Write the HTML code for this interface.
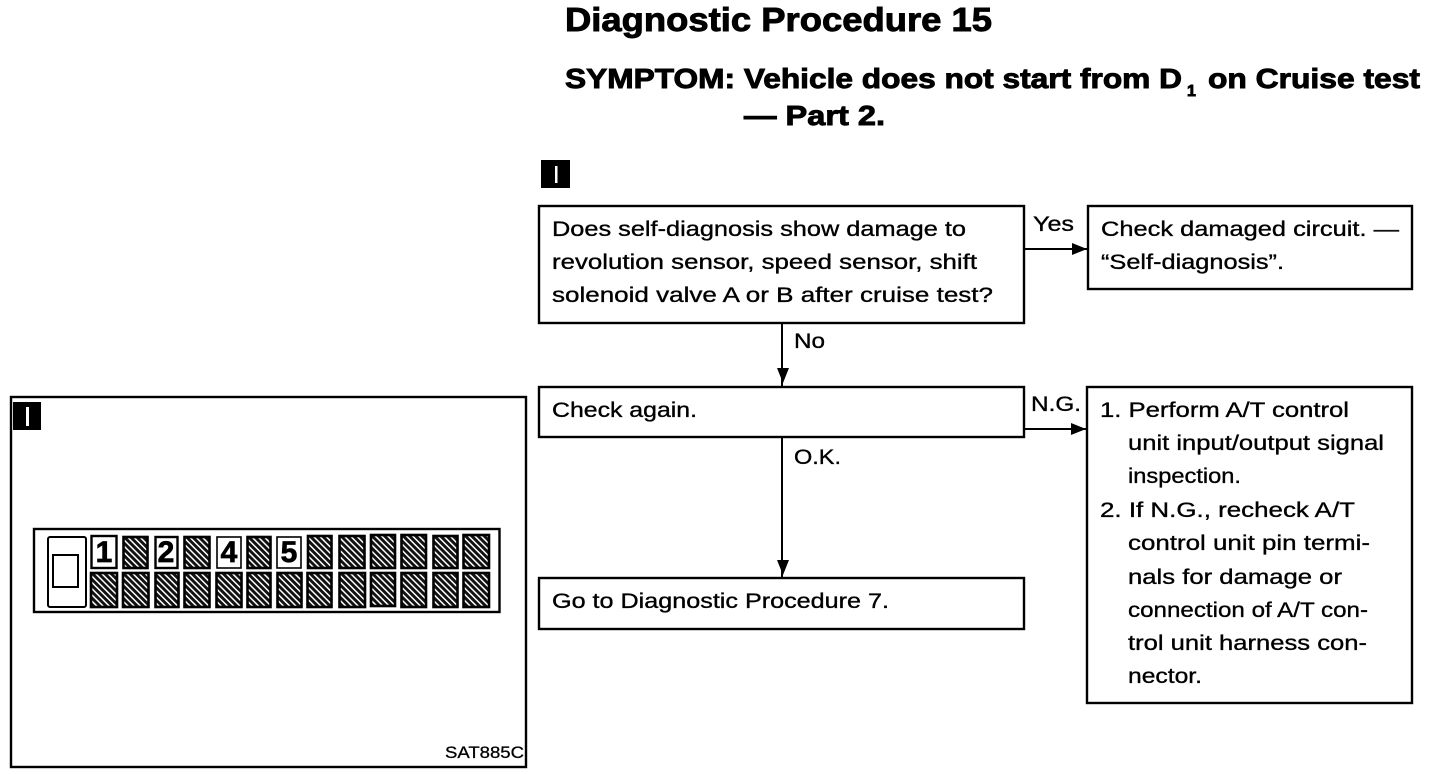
<!DOCTYPE html>
<html>
<head>
<meta charset="utf-8">
<style>
html,body{margin:0;padding:0;background:#fff;width:1440px;height:774px;overflow:hidden}
svg{display:block}
text{font-family:"Liberation Sans",sans-serif;fill:#000}
.t{font-size:21.5px;stroke:#000;stroke-width:.35px}
.h{font-weight:bold;stroke:#000;stroke-width:.9px}
.b{fill:#fff;stroke:#000;stroke-width:2.4px}
.l{stroke:#000;stroke-width:2px;fill:none}
.n{font-size:30px;font-weight:bold;text-anchor:middle;stroke:#000;stroke-width:.7px}
.c{fill:url(#hatch);stroke:#000;stroke-width:2.6px}
.w{fill:#fff;stroke:#000;stroke-width:2.4px}
</style>
</head>
<body>
<svg width="1440" height="774" viewBox="0 0 1440 774" xmlns="http://www.w3.org/2000/svg">
<defs>
<pattern id="hatch" width="4.4" height="4.4" patternUnits="userSpaceOnUse" patternTransform="rotate(-45)">
<rect width="4.4" height="4.4" fill="#111"/>
<rect width="1.5" height="4.4" fill="#fff"/>
</pattern>
</defs>

<!-- Title -->
<text class="h" x="565" y="31" font-size="33.5" textLength="427" lengthAdjust="spacingAndGlyphs">Diagnostic Procedure 15</text>
<text class="h" x="565" y="88" font-size="27.5" textLength="617" lengthAdjust="spacingAndGlyphs">SYMPTOM: Vehicle does not start from D</text>
<text class="h" x="1187" y="96" font-size="16">1</text>
<text class="h" x="1208" y="88" font-size="27.5" textLength="212" lengthAdjust="spacingAndGlyphs">on Cruise test</text>
<text class="h" x="744" y="125" font-size="27.5" textLength="141" lengthAdjust="spacingAndGlyphs">— Part 2.</text>

<!-- Step marker -->
<rect x="541" y="160" width="29" height="28" fill="#000"/>
<rect x="555" y="166" width="2.5" height="17" fill="#fff"/>

<!-- Flow boxes -->
<rect class="b" x="539" y="206" width="485" height="117"/>
<rect class="b" x="1088" y="206" width="324" height="83"/>
<rect class="b" x="539" y="387" width="485" height="50"/>
<rect class="b" x="1087" y="387" width="325" height="316"/>
<rect class="b" x="539" y="578" width="485" height="51"/>

<!-- Connectors -->
<line class="l" x1="1024" y1="249" x2="1088" y2="249"/>
<polygon points="1087,249 1072,243 1072,255"/>
<line class="l" x1="1024" y1="429" x2="1087" y2="429"/>
<polygon points="1086,429 1071,423 1071,435"/>
<line class="l" x1="782" y1="323" x2="782" y2="387"/>
<polygon points="783,383 777,368 789,368"/>
<line class="l" x1="782" y1="437" x2="782" y2="578"/>
<polygon points="783,575 777,560 789,560"/>

<!-- Flow text -->
<text class="t" x="552" y="236" textLength="414" lengthAdjust="spacingAndGlyphs">Does self-diagnosis show damage to</text>
<text class="t" x="552" y="269" textLength="425" lengthAdjust="spacingAndGlyphs">revolution sensor, speed sensor, shift</text>
<text class="t" x="552" y="302" textLength="441" lengthAdjust="spacingAndGlyphs">solenoid valve A or B after cruise test?</text>
<text class="t" x="1101" y="236" textLength="298" lengthAdjust="spacingAndGlyphs">Check damaged circuit. —</text>
<text class="t" x="1101" y="269" textLength="183" lengthAdjust="spacingAndGlyphs">“Self-diagnosis”.</text>
<text class="t" x="1033" y="231" textLength="41" lengthAdjust="spacingAndGlyphs">Yes</text>
<text class="t" x="794" y="348" textLength="31" lengthAdjust="spacingAndGlyphs">No</text>
<text class="t" x="552" y="417" textLength="145" lengthAdjust="spacingAndGlyphs">Check again.</text>
<text class="t" x="1031" y="411" textLength="50" lengthAdjust="spacingAndGlyphs">N.G.</text>
<text class="t" x="794" y="464" textLength="47" lengthAdjust="spacingAndGlyphs">O.K.</text>
<text class="t" x="552" y="608" textLength="337" lengthAdjust="spacingAndGlyphs">Go to Diagnostic Procedure 7.</text>

<text class="t" x="1100" y="417" textLength="249" lengthAdjust="spacingAndGlyphs">1. Perform A/T control</text>
<text class="t" x="1128" y="450" textLength="256" lengthAdjust="spacingAndGlyphs">unit input/output signal</text>
<text class="t" x="1128" y="483" textLength="113" lengthAdjust="spacingAndGlyphs">inspection.</text>
<text class="t" x="1100" y="517" textLength="255" lengthAdjust="spacingAndGlyphs">2. If N.G., recheck A/T</text>
<text class="t" x="1128" y="550" textLength="242" lengthAdjust="spacingAndGlyphs">control unit pin termi-</text>
<text class="t" x="1128" y="584" textLength="214" lengthAdjust="spacingAndGlyphs">nals for damage or</text>
<text class="t" x="1128" y="617" textLength="240" lengthAdjust="spacingAndGlyphs">connection of A/T con-</text>
<text class="t" x="1128" y="650" textLength="239" lengthAdjust="spacingAndGlyphs">trol unit harness con-</text>
<text class="t" x="1128" y="683" textLength="74" lengthAdjust="spacingAndGlyphs">nector.</text>

<!-- Left panel -->
<rect class="b" x="11" y="397" width="515" height="370"/>
<rect x="13" y="402" width="28" height="28" fill="#000"/>
<rect x="26" y="407" width="3" height="19" fill="#fff"/>
<text x="445" y="758" font-size="17" stroke="#000" stroke-width=".3" textLength="79" lengthAdjust="spacingAndGlyphs">SAT885C</text>

<!-- Connector illustration -->
<rect x="34" y="529" width="465.5" height="83" fill="#fff" stroke="#000" stroke-width="2.4"/>
<rect x="48" y="537" width="38" height="70" rx="2" fill="#fff" stroke="#000" stroke-width="2"/>
<rect x="53" y="555" width="25" height="32" fill="#fff" stroke="#000" stroke-width="2"/>

<!-- top row -->
<rect class="w" x="91.5" y="536" width="25" height="32"/>
<rect class="c" x="123.5" y="537" width="24" height="31"/>
<rect class="w" x="155.5" y="537" width="22" height="31"/>
<rect class="c" x="184.5" y="537" width="25" height="31"/>
<rect x="217" y="537" width="24" height="31" fill="#fff" stroke="#000" stroke-width="1.6"/>
<rect class="c" x="247.5" y="537" width="23" height="31"/>
<rect x="277" y="537" width="24" height="31" fill="#fff" stroke="#000" stroke-width="1.6"/>
<rect class="c" x="308" y="536" width="23.5" height="32"/>
<rect class="c" x="339.5" y="536" width="25" height="32"/>
<rect class="c" x="371" y="535" width="24" height="33"/>
<rect class="c" x="401.5" y="535" width="24.5" height="33"/>
<rect class="c" x="433.5" y="536" width="24" height="32"/>
<rect class="c" x="463.5" y="535" width="25.5" height="33"/>
<text class="n" x="104" y="562">1</text>
<text class="n" x="166" y="562">2</text>
<text class="n" x="229" y="562">4</text>
<text class="n" x="289" y="562">5</text>

<!-- bottom row -->
<rect class="c" x="91" y="573" width="26" height="34"/>
<rect class="c" x="123" y="573" width="25.5" height="34"/>
<rect class="c" x="155.5" y="573" width="23" height="34"/>
<rect class="c" x="184.5" y="573" width="25" height="34"/>
<rect class="c" x="216.5" y="573" width="25" height="34"/>
<rect class="c" x="247.5" y="573" width="23" height="34"/>
<rect class="c" x="277.5" y="573" width="24" height="34"/>
<rect class="c" x="307.5" y="573" width="24" height="34"/>
<rect class="c" x="339.5" y="573" width="25.5" height="34"/>
<rect class="c" x="371" y="573" width="24" height="33"/>
<rect class="c" x="401.5" y="573" width="24.5" height="34"/>
<rect class="c" x="433.5" y="573" width="24" height="34"/>
<rect class="c" x="463.5" y="573" width="25.5" height="34"/>
</svg>
</body>
</html>
